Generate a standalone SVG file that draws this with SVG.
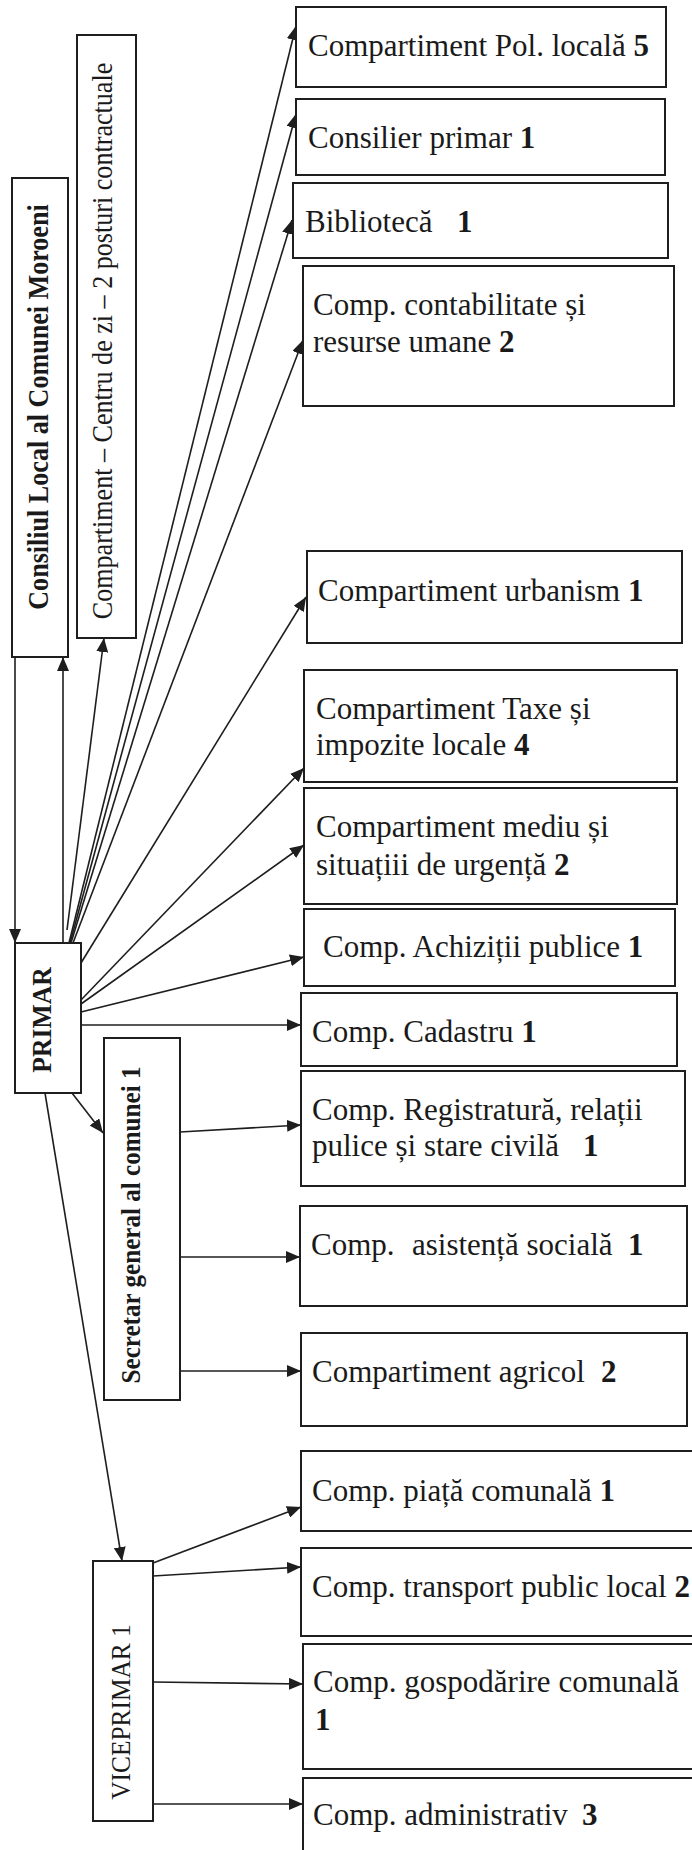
<svg xmlns="http://www.w3.org/2000/svg" width="692" height="1850" viewBox="0 0 692 1850">
<style>
.box{fill:#fff;stroke:#1e1e1e;stroke-width:2}
.t{font-family:"Liberation Serif","Times New Roman",serif;font-size:31px;fill:#1a1a1a}
.b{font-weight:bold}
.v{font-family:"Liberation Serif","Times New Roman",serif;fill:#1a1a1a;text-anchor:middle}
.ln{stroke:#1e1e1e;stroke-width:1.6;fill:none;marker-end:url(#ah)}
</style>
<defs>
<marker id="ah" markerUnits="userSpaceOnUse" markerWidth="15" markerHeight="12" refX="14" refY="6" orient="auto">
<path d="M0,0 L14,6 L0,12 z" fill="#1e1e1e"/>
</marker>
</defs>
<rect width="692" height="1850" fill="#fff"/>

<g id="connectors">
<line class="ln" x1="15" y1="657" x2="15" y2="943"/>
<line class="ln" x1="63" y1="943" x2="63" y2="657"/>
<line class="ln" x1="67" y1="930" x2="104" y2="638"/>
<line class="ln" x1="69" y1="943" x2="296" y2="26"/>
<line class="ln" x1="70" y1="943" x2="296" y2="114"/>
<line class="ln" x1="71" y1="943" x2="292" y2="220"/>
<line class="ln" x1="73" y1="943" x2="303" y2="340"/>
<line class="ln" x1="81" y1="963" x2="306" y2="597"/>
<line class="ln" x1="81" y1="1000" x2="304" y2="768"/>
<line class="ln" x1="81" y1="1004" x2="304" y2="845"/>
<line class="ln" x1="81" y1="1012" x2="304" y2="957"/>
<line class="ln" x1="81" y1="1025" x2="301" y2="1025"/>
<line class="ln" x1="72" y1="1093" x2="103" y2="1133"/>
<line class="ln" x1="45" y1="1093" x2="122" y2="1561"/>
<line class="ln" x1="180" y1="1132" x2="301" y2="1125"/>
<line class="ln" x1="177" y1="1257" x2="300" y2="1257"/>
<line class="ln" x1="177" y1="1371" x2="301" y2="1371"/>
<line class="ln" x1="153" y1="1563" x2="301" y2="1507"/>
<line class="ln" x1="153" y1="1576" x2="301" y2="1567"/>
<line class="ln" x1="153" y1="1682" x2="303" y2="1684"/>
<line class="ln" x1="153" y1="1804" x2="303" y2="1804"/>
</g>

<g id="consiliul">
<rect class="box" x="12" y="178" width="56" height="479"/>
<text class="v b" font-size="30" transform="translate(48,407) rotate(-90) scale(0.87,1)">Consiliul Local al Comunei Moroeni</text>
</g>
<g id="centru">
<rect class="box" x="77" y="35" width="59" height="603"/>
<text class="v" font-size="30" transform="translate(112,341) rotate(-90) scale(0.87,1)">Compartiment – Centru de zi – 2 posturi contractuale</text>
</g>
<g id="primar">
<rect class="box" x="15" y="943" width="66" height="150"/>
<text class="v b" font-size="27" transform="translate(51,1020) rotate(-90) scale(0.95,1)">PRIMAR</text>
</g>
<g id="secretar">
<rect class="box" x="104" y="1038" width="76" height="362"/>
<text class="v b" font-size="27" transform="translate(140,1225) rotate(-90) scale(0.93,1)">Secretar general al comunei 1</text>
</g>
<g id="viceprimar">
<rect class="box" x="93" y="1561" width="60" height="260"/>
<text class="v" font-size="27" transform="translate(130,1712) rotate(-90) scale(0.94,1)">VICEPRIMAR 1</text>
</g>

<g id="pol">
<rect class="box" x="296" y="7" width="370" height="80"/>
<text class="t" x="308" y="56">Compartiment Pol. locală <tspan class="b">5</tspan></text>
</g>
<g id="consilier">
<rect class="box" x="296" y="99" width="369" height="76"/>
<text class="t" x="308" y="148">Consilier primar <tspan class="b">1</tspan></text>
</g>
<g id="biblioteca">
<rect class="box" x="293" y="183" width="375" height="75"/>
<text class="t" x="305" y="232">Bibliotecă<tspan class="b" x="457">1</tspan></text>
</g>
<g id="contabilitate">
<rect class="box" x="303" y="266" width="371" height="140"/>
<text class="t" x="313" y="315">Comp. contabilitate și</text>
<text class="t" x="313" y="352">resurse umane <tspan class="b">2</tspan></text>
</g>
<g id="urbanism">
<rect class="box" x="307" y="551" width="375" height="92"/>
<text class="t" x="318" y="601">Compartiment urbanism <tspan class="b">1</tspan></text>
</g>
<g id="taxe">
<rect class="box" x="304" y="670" width="373" height="112"/>
<text class="t" x="316" y="719">Compartiment Taxe și</text>
<text class="t" x="316" y="755">impozite locale <tspan class="b">4</tspan></text>
</g>
<g id="mediu">
<rect class="box" x="304" y="788" width="373" height="116"/>
<text class="t" x="316" y="837">Compartiment mediu și</text>
<text class="t" x="316" y="875">situațiii de urgență <tspan class="b">2</tspan></text>
</g>
<g id="achizitii">
<rect class="box" x="304" y="909" width="371" height="77"/>
<text class="t" x="323" y="957">Comp. Achiziții publice <tspan class="b">1</tspan></text>
</g>
<g id="cadastru">
<rect class="box" x="301" y="993" width="376" height="73"/>
<text class="t" x="312" y="1042">Comp. Cadastru <tspan class="b">1</tspan></text>
</g>
<g id="registratura">
<rect class="box" x="301" y="1071" width="384" height="115"/>
<text class="t" x="312" y="1120">Comp. Registratură, relații</text>
<text class="t" x="312" y="1156">pulice și stare civilă<tspan class="b" x="583">1</tspan></text>
</g>
<g id="asistenta">
<rect class="box" x="300" y="1206" width="387" height="100"/>
<text class="t" x="311" y="1255">Comp.<tspan x="412">asistență socială</tspan><tspan class="b" x="628">1</tspan></text>
</g>
<g id="agricol">
<rect class="box" x="301" y="1333" width="386" height="93"/>
<text class="t" x="312" y="1382">Compartiment agricol<tspan class="b" x="601">2</tspan></text>
</g>
<g id="piata">
<rect class="box" x="301" y="1451" width="400" height="80"/>
<text class="t" x="312" y="1501">Comp. piață comunală <tspan class="b">1</tspan></text>
</g>
<g id="transport">
<rect class="box" x="301" y="1548" width="400" height="88"/>
<text class="t" x="312" y="1597">Comp. transport public local <tspan class="b">2</tspan></text>
</g>
<g id="gospodarire">
<rect class="box" x="303" y="1644" width="398" height="125"/>
<text class="t" x="313" y="1692">Comp. gospodărire comunală</text>
<text class="t b" x="315" y="1730">1</text>
</g>
<g id="administrativ">
<rect class="box" x="303" y="1778" width="398" height="90"/>
<text class="t" x="313" y="1825">Comp. administrativ<tspan class="b" x="582">3</tspan></text>
</g>
</svg>
